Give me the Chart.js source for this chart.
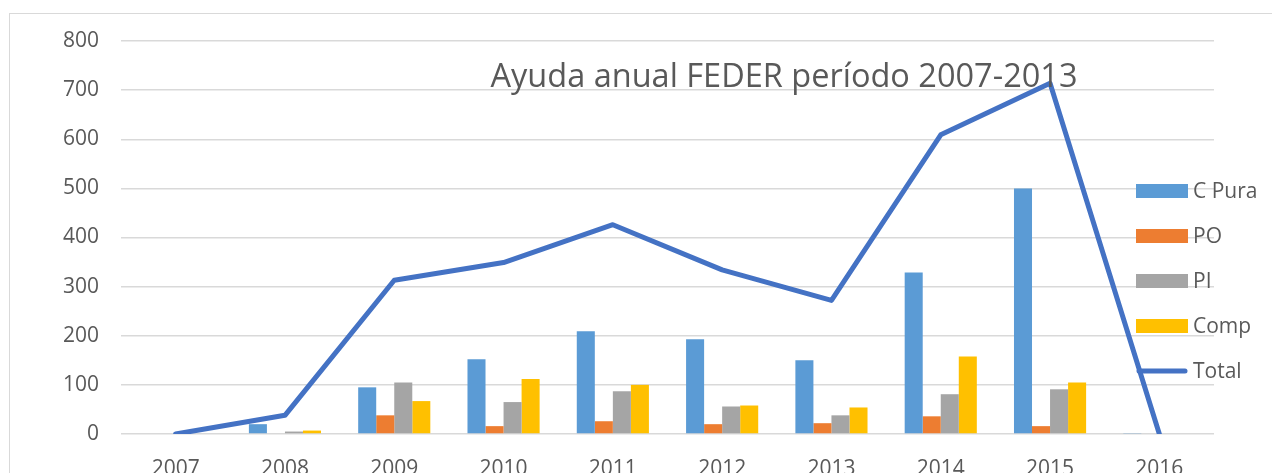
<!DOCTYPE html>
<html>
<head>
<meta charset="utf-8">
<script src="https://cdn.jsdelivr.net/npm/chart.js@4.4.1/dist/chart.umd.min.js"></script>
<style>
  html, body { margin: 0; padding: 0; background: #fff; overflow: hidden; }
  #wrap { position: relative; width: 1272px; height: 500px; }
  #frame { position: absolute; left: 9px; top: 13px; width: 1400px; height: 600px; border: 1px solid #d9d9d9; box-sizing: border-box; }
  #chart { position: absolute; left: 0; top: 0; }
</style>
</head>
<body>
<div id="wrap">
  <div id="frame"></div>
  <canvas id="chart" width="1272" height="500"></canvas>
</div>
<script>
const years = ['2007', '2008', '2009', '2010', '2011', '2012', '2013', '2014', '2015', '2016']
const cPura = [0, 20, 95, 152, 209, 193, 150, 329, 500, 2]
const po = [0, 0, 38, 16, 26, 20, 22, 36, 16, 0]
const pi = [0, 5, 105, 65, 87, 56, 38, 81, 91, 0]
const comp = [0, 7, 67, 112, 100, 58, 54, 158, 105, 0]
const total = [0, 38, 313, 349, 426, 334, 272, 609, 714, 0]
const yTicks = [0, 100, 200, 300, 400, 500, 600, 700, 800]

const chartTitle = 'Ayuda anual FEDER período 2007-2013'
const textColour = '#595959'
const gridColour = '#d9d9d9'

// Office palette
const colours = {
  cPura: '#5b9bd5',
  po: '#ed7d31',
  pi: '#a5a5a5',
  comp: '#ffc000',
  total: '#4472c4',
}

const fontFamily = '"Open Sans", "Liberation Sans", sans-serif'

const barSet = (label, data, colour) => ({
  type: 'bar',
  label,
  data,
  backgroundColor: colour,
  borderWidth: 0,
  categoryPercentage: 0.66,
  barPercentage: 1,
  order: 1,
})

// legend sits on top of the plot area, like the spreadsheet one
const overlayLegend = {
  id: 'overlayLegend',
  afterDraw(chart) {
    const { ctx } = chart
    const x0 = 1136
    const boxW = 52
    const boxH = 14
    let y = 191
    ctx.save()
    ctx.font = `21px ${fontFamily}`
    ctx.textBaseline = 'middle'
    ctx.textAlign = 'left'
    chart.data.datasets.slice().sort((a, b) => a.legendIndex - b.legendIndex).forEach((ds) => {
      if (ds.type === 'line') {
        ctx.strokeStyle = ds.borderColor
        ctx.lineWidth = ds.borderWidth
        ctx.lineCap = 'round'
        ctx.beginPath()
        ctx.moveTo(x0 + 3, y)
        ctx.lineTo(x0 + boxW - 3, y)
        ctx.stroke()
      } else {
        ctx.fillStyle = ds.backgroundColor
        ctx.fillRect(x0, y - boxH / 2, boxW, boxH)
      }
      ctx.fillStyle = textColour
      ctx.fillText(ds.label, x0 + boxW + 5, y + 1)
      y += 45
    })
    ctx.restore()
  },
}

const overlayTitle = {
  id: 'overlayTitle',
  afterDatasetsDraw(chart) {
    const { ctx } = chart
    ctx.save()
    ctx.font = `32.5px ${fontFamily}`
    ctx.fillStyle = textColour
    ctx.textAlign = 'center'
    ctx.textBaseline = 'middle'
    ctx.fillText(chartTitle, 784, 78)
    ctx.restore()
  },
}

const datasets = [
  {
    type: 'line',
    label: 'Total',
    data: total,
    borderColor: colours.total,
    backgroundColor: colours.total,
    borderWidth: 5,
    borderCapStyle: 'round',
    borderJoinStyle: 'round',
    pointRadius: 0,
    tension: 0,
    order: 0,
    legendIndex: 4,
  },
  { ...barSet('C Pura', cPura, colours.cPura), legendIndex: 0 },
  { ...barSet('PO', po, colours.po), legendIndex: 1 },
  { ...barSet('PI', pi, colours.pi), legendIndex: 2 },
  { ...barSet('Comp', comp, colours.comp), legendIndex: 3 },
]

new Chart(document.getElementById('chart'), {
  data: { labels: years, datasets },
  options: {
    responsive: false,
    animation: false,
    layout: { padding: { left: 0, right: 58, top: 41, bottom: 26 } },
    plugins: {
      legend: { display: false },
      tooltip: { enabled: false },
    },
    scales: {
      x: {
        grid: { display: false },
        border: { display: false },
        ticks: {
          color: textColour,
          font: { family: fontFamily, size: 21 },
          padding: 14,
          maxRotation: 0,
        },
        afterFit: (s) => { s.height = 40 },
      },
      y: {
        min: 0,
        max: 800,
        afterBuildTicks: (s) => { s.ticks = yTicks.map((v) => ({ value: v })) },
        grid: { color: gridColour, lineWidth: 1.5, drawTicks: false },
        border: { display: false },
        ticks: {
          color: textColour,
          font: { family: fontFamily, size: 21 },
          padding: 22,
        },
        afterFit: (s) => { s.width = 121 },
      },
    },
  },
  plugins: [overlayTitle, overlayLegend],
})
</script>
</body>
</html>
